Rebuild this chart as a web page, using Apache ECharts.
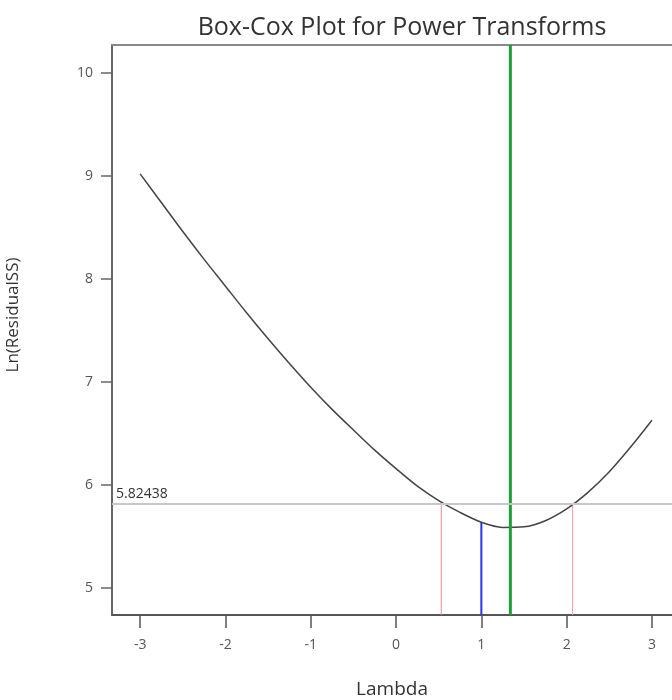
<!DOCTYPE html>
<html>
<head>
<meta charset="utf-8">
<script src="https://cdn.jsdelivr.net/npm/echarts@6/dist/echarts.min.js"></script>
<style>
  html, body { margin: 0; padding: 0; background: #fff; }
  #chart { width: 672px; height: 700px; }
</style>
</head>
<body>
<div id="chart"></div>
<script>
// Box-Cox profile: ln(residual SS) for each trial lambda
const lambdas = [-3, -2.75, -2.5, -2.25, -2, -1.75, -1.5, -1.25, -1, -0.75, -0.5, -0.25,
                 0, 0.25, 0.5, 0.75, 1, 1.25, 1.5, 1.75, 2, 2.25, 2.5, 2.75, 3];
const lnResidualSS = [9.02, 8.74, 8.46, 8.19, 7.93, 7.67, 7.42, 7.18, 6.95, 6.735, 6.535, 6.34,
                      6.16, 5.99, 5.85, 5.735, 5.64, 5.59, 5.595, 5.655, 5.77, 5.93, 6.13, 6.37, 6.63];

// Reference values
const currentLambda = 1;       // current transform (blue)
const bestLambda = 1.34;       // best lambda (green)
const ciLow = 0.53;            // confidence interval bounds (red)
const ciHigh = 2.07;
const ciThreshold = 5.82438;   // horizontal cut-off for the interval

// Axis ranges and tick values
const xMin = -3.33, xMax = 3.235;
const yMin = 4.74, yMax = 10.27;
const xTicks = [-3, -2, -1, 0, 1, 2, 3];
const yTicks = [5, 6, 7, 8, 9, 10];

const curve = lambdas.map((l, i) => [l, lnResidualSS[i]]);
const currentValue = lnResidualSS[lambdas.indexOf(currentLambda)];

const chart = echarts.init(document.getElementById('chart'), null, { renderer: 'canvas' });

const fontFamily = '"Open Sans", "Noto Sans", sans-serif';

chart.setOption({
  animation: false,
  backgroundColor: '#ffffff',
  title: {
    text: 'Box-Cox Plot for Power Transforms',
    left: 397,
    textAlign: 'center',
    top: 10,
    textStyle: { fontFamily, fontSize: 25, fontWeight: 'normal', color: '#333' }
  },
  grid: {
    left: 112, top: 45, right: 0, bottom: 85,
    outerBoundsMode: 'none'
  },
  xAxis: [
    {
      type: 'value',
      min: xMin, max: xMax,
      name: 'Lambda',
      nameLocation: 'middle',
      nameGap: 65,
      nameTextStyle: { fontFamily, fontSize: 19, color: '#333', align: 'center' },
      axisLine: { show: true, onZero: false, lineStyle: { color: '#555', width: 2 } },
      axisTick: { show: true, length: 13, customValues: xTicks, lineStyle: { color: '#555', width: 1.5 } },
      axisLabel: { customValues: xTicks, fontFamily, fontSize: 14, color: '#555', margin: 23 },
      splitLine: { show: false }
    },
    {
      // top frame edge
      type: 'value',
      position: 'top',
      min: xMin, max: xMax,
      axisLine: { show: true, onZero: false, lineStyle: { color: '#888', width: 2 } },
      axisTick: { show: false },
      axisLabel: { show: false },
      splitLine: { show: false }
    }
  ],
  yAxis: {
    type: 'value',
    min: yMin, max: yMax,
    name: 'Ln(ResidualSS)',
    nameLocation: 'middle',
    nameGap: 90,
    nameRotate: 90,
    nameTextStyle: { fontFamily, fontSize: 17, color: '#333', padding: [0, 0, 0, 30] },
    axisLine: { show: true, onZero: false, lineStyle: { color: '#666', width: 2 } },
    axisTick: { show: true, length: 11, customValues: yTicks, lineStyle: { color: '#666', width: 1.5 } },
    axisLabel: { customValues: yTicks, fontFamily, fontSize: 14, color: '#555', margin: 19 },
    splitLine: { show: false }
  },
  series: [
    {
      name: 'threshold',
      type: 'line',
      data: [],
      markLine: {
        silent: true,
        symbol: 'none',
        lineStyle: { color: '#c8c8c8', width: 2, type: 'solid' },
        label: {
          show: true,
          position: 'insideStartTop',
          formatter: String(ciThreshold),
          fontFamily, fontSize: 14, color: '#333',
          distance: [4, 3]
        },
        data: [{ yAxis: ciThreshold }]
      }
    },
    {
      name: 'ci low',
      type: 'line',
      data: [[ciLow, yMin], [ciLow, ciThreshold]],
      symbol: 'none',
      lineStyle: { color: '#f08a8a', width: 1 }
    },
    {
      name: 'ci high',
      type: 'line',
      data: [[ciHigh, yMin], [ciHigh, ciThreshold]],
      symbol: 'none',
      lineStyle: { color: '#f0a0a0', width: 1 }
    },
    {
      name: 'current',
      type: 'line',
      data: [[currentLambda, yMin], [currentLambda, currentValue]],
      symbol: 'none',
      lineStyle: { color: '#3030f0', width: 2 }
    },
    {
      name: 'Ln(ResidualSS)',
      type: 'line',
      data: curve,
      smooth: 0.3,
      symbol: 'none',
      lineStyle: { color: '#444', width: 1.5 }
    },
    {
      name: 'best',
      type: 'line',
      data: [[bestLambda, yMin], [bestLambda, yMax]],
      symbol: 'none',
      lineStyle: { color: '#1f9e3a', width: 3 }
    }
  ]
});
</script>
</body>
</html>
